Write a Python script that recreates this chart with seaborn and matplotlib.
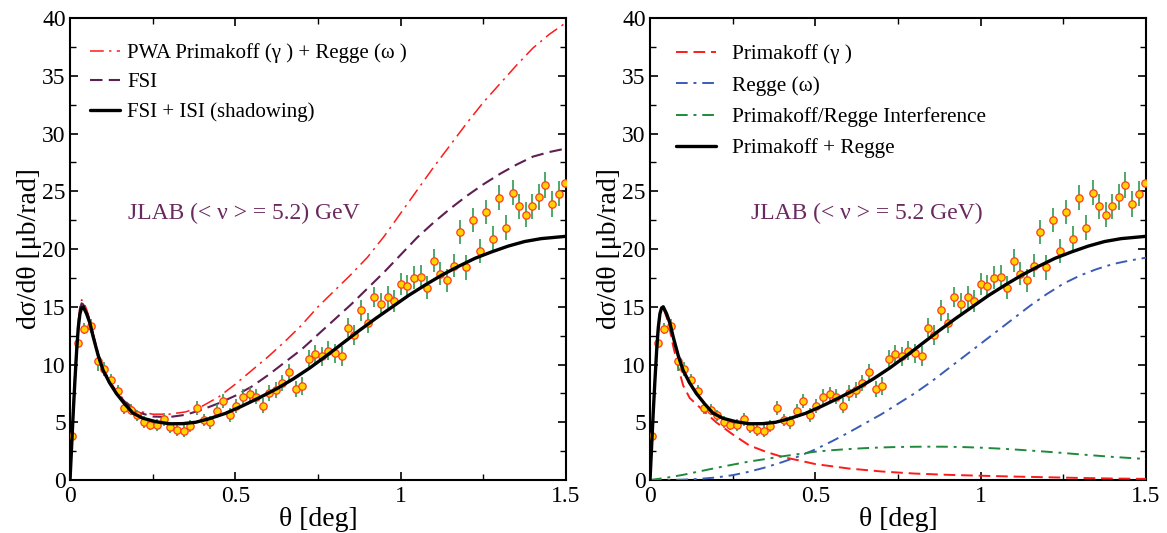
import matplotlib
matplotlib.use('Agg')
import numpy as np
import matplotlib.pyplot as plt
import seaborn as sns
from matplotlib.ticker import MultipleLocator

# === data ===
# measured points (both panels show the same set)
theta_data = [0.005, 0.023, 0.043, 0.064, 0.084, 0.104, 0.124, 0.144, 0.163, 0.184,
              0.204, 0.224, 0.243, 0.263, 0.283, 0.303, 0.324, 0.344, 0.364, 0.384,
              0.404, 0.423, 0.444, 0.464, 0.484, 0.503, 0.523, 0.543, 0.563, 0.584,
              0.603, 0.623, 0.642, 0.662, 0.683, 0.703, 0.722, 0.741, 0.761, 0.781,
              0.802, 0.822, 0.841, 0.860, 0.880, 0.900, 0.920, 0.941, 0.961, 0.981,
              1.000, 1.020, 1.040, 1.060, 1.080, 1.100, 1.120, 1.139, 1.160, 1.179,
              1.199, 1.219, 1.239, 1.258, 1.278, 1.298, 1.318, 1.339, 1.358, 1.378,
              1.398, 1.418, 1.438, 1.458, 1.478, 1.497]
xsec_data = [3.84, 11.9, 13.1, 13.3, 10.3, 9.6, 8.7, 7.7, 6.2, 6.1,
             5.6, 5.0, 4.8, 4.76, 5.25, 4.56, 4.36, 4.24, 4.68, 6.23,
             5.2, 5.0, 6.0, 6.87, 5.66, 6.4, 7.19, 7.42, 7.19, 6.44,
             7.56, 7.77, 8.4, 9.32, 7.85, 8.14, 10.48, 10.9, 10.7, 11.2,
             10.97, 10.74, 13.2, 12.58, 14.7, 13.6, 15.84, 15.24, 15.87, 15.5,
             17.0, 16.8, 17.5, 17.58, 16.65, 19.0, 17.87, 17.3, 18.56, 21.45,
             18.4, 22.5, 19.83, 23.2, 20.9, 24.45, 21.86, 24.88, 23.7, 22.97,
             23.7, 24.5, 25.54, 23.9, 24.8, 25.74]
xsec_err = [0.3, 0.4, 0.5, 0.6, 0.85, 0.6, 0.5, 0.5, 0.5, 0.45,
            0.45, 0.5, 0.5, 0.5, 0.55, 0.5, 0.55, 0.55, 0.55, 0.6,
            0.55, 0.55, 0.6, 0.6, 0.6, 0.6, 0.65, 0.65, 0.65, 0.65,
            0.7, 0.7, 0.7, 0.7, 0.7, 0.75, 0.75, 0.8, 0.8, 0.8,
            0.8, 0.85, 0.85, 0.85, 0.9, 0.9, 0.9, 0.95, 0.95, 0.95,
            0.95, 0.95, 1.0, 1.0, 1.0, 1.0, 1.0, 1.0, 1.0, 1.05,
            1.05, 1.05, 1.05, 1.05, 1.05, 1.1, 1.1, 1.1, 1.1, 1.1,
            1.1, 1.1, 1.1, 1.1, 1.05, 0.0]

# full model (FSI + ISI) == Primakoff + Regge
theta_full = [0, 0.005, 0.01, 0.015, 0.02, 0.025, 0.03, 0.035, 0.04,
              0.05, 0.06, 0.07, 0.085, 0.1, 0.12, 0.14, 0.165, 0.19, 0.22,
              0.26, 0.3, 0.34, 0.38, 0.42, 0.47, 0.52, 0.575, 0.625, 0.675,
              0.725, 0.775, 0.825, 0.875, 0.925, 0.975, 1.025, 1.075, 1.125, 1.175,
              1.225, 1.275, 1.325, 1.375, 1.425, 1.5]
xsec_full = [0, 3.0, 6.0, 8.7, 11.2, 13.2, 14.4, 14.9, 15.0,
             14.4, 13.6, 12.4, 10.8, 9.5, 8.4, 7.5, 6.6, 5.8, 5.35,
             5.05, 4.87, 4.88, 5.0, 5.3, 5.77, 6.4, 7.16, 7.9, 8.75,
             9.7, 10.75, 11.85, 12.95, 14.0, 15.0, 16.0, 16.9, 17.75, 18.5,
             19.2, 19.75, 20.25, 20.65, 20.9, 21.1]

# left panel: PWA and FSI
theta_left = [0, 0.005, 0.01, 0.015, 0.02, 0.025, 0.03, 0.035, 0.04,
              0.05, 0.06, 0.07, 0.085, 0.1, 0.12, 0.14, 0.165, 0.2,
              0.25, 0.3, 0.35, 0.4, 0.45, 0.5, 0.55, 0.6, 0.65, 0.7,
              0.75, 0.8, 0.85, 0.9, 0.95, 1.0, 1.05, 1.1, 1.15, 1.2,
              1.25, 1.3, 1.35, 1.4, 1.45, 1.5]
xsec_pwa = [0, 3.1, 6.2, 9.0, 11.6, 13.7, 15.0, 15.6, 15.5,
            14.8, 13.9, 12.7, 11.0, 9.7, 8.6, 7.7, 6.9, 6.0,
            5.7, 5.7, 5.9, 6.4, 7.2, 8.3, 9.5, 10.7, 12.0, 13.4,
            15.0, 16.4, 17.8, 19.3, 21.1, 23.1, 25.1, 27.1, 29.0, 30.9,
            32.7, 34.3, 35.9, 37.4, 38.6, 39.6]
xsec_fsi = [0, 3.0, 6.1, 8.9, 11.4, 13.5, 14.8, 15.3, 15.2,
            14.6, 13.7, 12.5, 10.9, 9.6, 8.5, 7.6, 6.8, 5.9,
            5.5, 5.45, 5.65, 6.1, 6.65, 7.3, 8.1, 9.1, 10.2, 11.3,
            12.6, 13.9, 15.2, 16.6, 18.0, 19.5, 21.0, 22.3, 23.5, 24.6,
            25.6, 26.5, 27.3, 28.0, 28.4, 28.7]

# right panel: components
theta_prim = [0, 0.005, 0.01, 0.015, 0.02, 0.025, 0.03, 0.035, 0.04,
              0.05, 0.06, 0.07, 0.085, 0.1, 0.12, 0.15, 0.2, 0.25, 0.3,
              0.35, 0.4, 0.45, 0.5, 0.6, 0.7, 0.8, 0.9, 1.0, 1.1,
              1.2, 1.3, 1.4, 1.5]
xsec_prim = [0, 3.0, 6.0, 8.7, 11.2, 13.2, 14.4, 14.9, 14.9,
             14.1, 13.0, 11.6, 9.8, 8.2, 7.1, 6.3, 5.0, 3.95, 3.0,
             2.45, 2.0, 1.7, 1.38, 1.0, 0.74, 0.56, 0.45, 0.37, 0.3,
             0.24, 0.18, 0.13, 0.1]
theta_comp = [0, 0.05, 0.1, 0.15, 0.2, 0.25, 0.3, 0.35, 0.4, 0.45, 0.5,
              0.55, 0.6, 0.65, 0.7, 0.75, 0.8, 0.85, 0.9, 0.95, 1.0,
              1.05, 1.1, 1.15, 1.2, 1.25, 1.3, 1.35, 1.4, 1.45, 1.5]
xsec_regge = [0, 0.0, 0.03, 0.1, 0.22, 0.42, 0.72, 1.1, 1.55, 2.05, 2.65,
              3.35, 4.1, 4.9, 5.7, 6.6, 7.5, 8.5, 9.6, 10.7, 11.8,
              12.9, 14.0, 15.1, 16.1, 17.0, 17.7, 18.25, 18.7, 19.0, 19.25]
xsec_interf = [0, 0.2, 0.45, 0.75, 1.05, 1.33, 1.6, 1.82, 2.05, 2.25, 2.45,
               2.58, 2.68, 2.76, 2.82, 2.86, 2.88, 2.89, 2.88, 2.85, 2.8,
               2.73, 2.65, 2.55, 2.45, 2.34, 2.22, 2.11, 2.0, 1.91, 1.82]

sns.set_theme(style='ticks')
plt.rcParams['font.family'] = ['Liberation Serif', 'DejaVu Serif']
plt.rcParams['text.color'] = 'black'
plt.rcParams['axes.labelcolor'] = 'black'
plt.rcParams['xtick.color'] = 'black'
plt.rcParams['ytick.color'] = 'black'

fig = plt.figure(figsize=(11.67, 5.33), dpi=100)
ax1 = fig.add_axes([0.060, 0.0994, 0.425, 0.8668])
ax2 = fig.add_axes([0.557, 0.0994, 0.425, 0.8668])

label_col = '#6a2a5e'


def draw_data(ax):
    ax.errorbar(theta_data, xsec_data, yerr=xsec_err, fmt='none',
                ecolor='#2f9a4f', elinewidth=1.4, alpha=0.85, zorder=4)
    sns.scatterplot(x=theta_data, y=xsec_data, ax=ax, s=28, color='#ffd400',
                    edgecolor='#ff3a1a', linewidth=0.9, zorder=5, legend=False)


def style_axes(ax):
    ax.set_xlim(0, 1.5)
    ax.set_ylim(0, 40)
    ax.xaxis.set_major_locator(MultipleLocator(0.5))
    ax.xaxis.set_minor_locator(MultipleLocator(0.25))
    ax.yaxis.set_major_locator(MultipleLocator(5))
    ax.yaxis.set_minor_locator(MultipleLocator(2.5))
    ax.set_xticks([0, 0.5, 1, 1.5])
    ax.set_xticklabels(['0', '0.5', '1', '1.5'])
    ax.tick_params(which='both', direction='in', top=True, right=True,
                   colors='black', labelcolor='black', labelsize=17)
    ax.tick_params(which='major', length=6, width=1.2, pad=4)
    ax.tick_params(which='minor', length=4, width=1.0)
    ax.tick_params(axis='y', pad=3)
    for sp in ax.spines.values():
        sp.set_linewidth(1.5)
        sp.set_color('black')
    ax.set_xlabel('θ [deg]', fontsize=20, labelpad=0, color='black')
    ax.set_ylabel('dσ/dθ [μb/rad]', fontsize=20, labelpad=0, color='black')


# === left panel ===
sns.lineplot(x=theta_left, y=xsec_pwa, ax=ax1, color='#ff1a1a', linewidth=1.1,
             linestyle=(0, (9, 3.5, 1.5, 3.5)), label='PWA Primakoff (γ ) + Regge (ω )',
             estimator=None, sort=False, zorder=3)
sns.lineplot(x=theta_left, y=xsec_fsi, ax=ax1, color='#5e1f52', linewidth=1.5,
             linestyle=(0, (6, 3)), label='FSI', estimator=None, sort=False, zorder=3)
sns.lineplot(x=theta_full, y=xsec_full, ax=ax1, color='black', linewidth=2.4,
             label='FSI + ISI (shadowing)', estimator=None, sort=False, zorder=6)
draw_data(ax1)
style_axes(ax1)
ax1.text(0.175, 23.1, 'JLAB (< ν > = 5.2) GeV', color=label_col, fontsize=17,
         va='center', ha='left')
ax1.legend(loc='upper left', bbox_to_anchor=(0.04, 0.945), frameon=False,
           fontsize=15, handlelength=1.45, handletextpad=0.35,
           labelspacing=0.46, borderpad=0, borderaxespad=0)

# === right panel ===
sns.lineplot(x=theta_prim, y=xsec_prim, ax=ax2, color='#ff1a1a', linewidth=1.4,
             linestyle=(0, (6, 3)), label='Primakoff (γ )',
             estimator=None, sort=False, zorder=3)
sns.lineplot(x=theta_comp, y=xsec_regge, ax=ax2, color='#3a5cb4', linewidth=1.4,
             linestyle=(0, (6, 3, 1.5, 3)), label='Regge (ω)',
             estimator=None, sort=False, zorder=3)
sns.lineplot(x=theta_comp, y=xsec_interf, ax=ax2, color='#1f8a3c', linewidth=1.4,
             linestyle=(0, (6, 3, 1.5, 3)), label='Primakoff/Regge Interference',
             estimator=None, sort=False, zorder=3)
sns.lineplot(x=theta_full, y=xsec_full, ax=ax2, color='black', linewidth=2.4,
             label='Primakoff + Regge', estimator=None, sort=False, zorder=6)
draw_data(ax2)
style_axes(ax2)
ax2.text(0.305, 23.1, 'JLAB (< ν > = 5.2 GeV)', color=label_col, fontsize=17,
         va='center', ha='left')
ax2.legend(loc='upper left', bbox_to_anchor=(0.053, 0.943), frameon=False,
           fontsize=15.3, handlelength=1.85, handletextpad=0.75,
           labelspacing=0.54, borderpad=0, borderaxespad=0)

fig.savefig('out.png', dpi=100)
